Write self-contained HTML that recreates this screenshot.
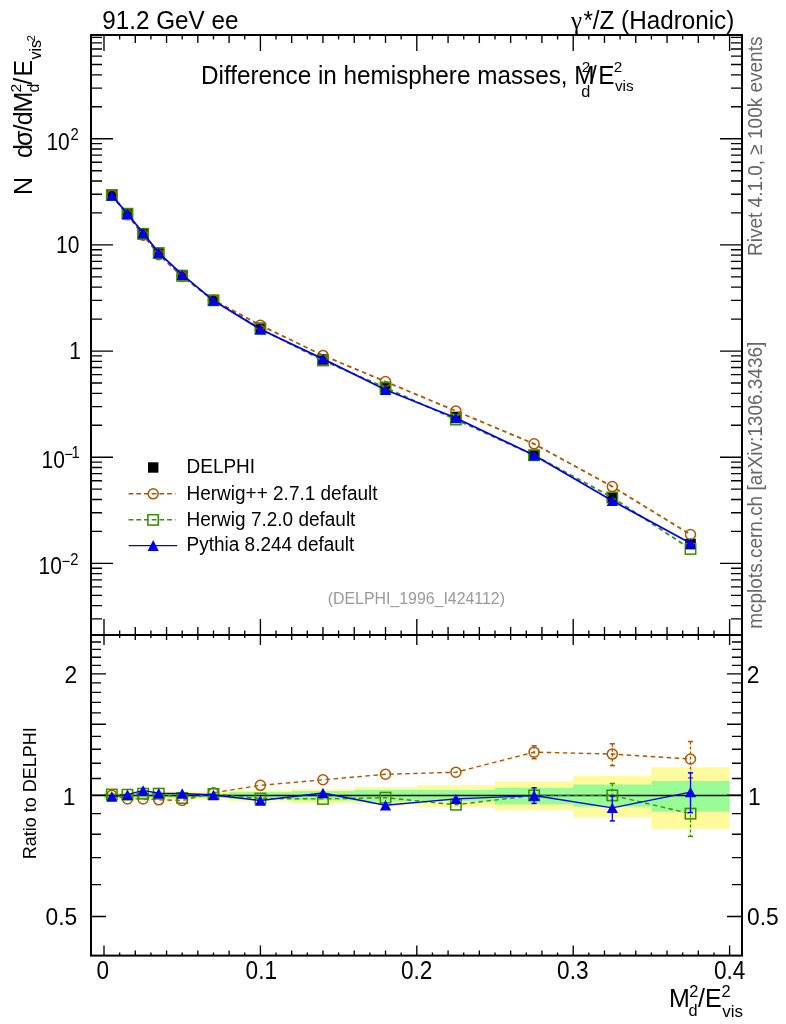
<!DOCTYPE html><html><head><meta charset="utf-8"><style>html,body{margin:0;padding:0;background:#fff;overflow:hidden}svg{display:block;will-change:transform}</style></head><body><svg width="786" height="1024" viewBox="0 0 786 1024" font-family='"Liberation Sans", sans-serif'><rect width="786" height="1024" fill="#fff"/><rect x="104.00" y="791.20" width="15.64" height="8.60" fill="#fffa9b"/><rect x="119.64" y="791.20" width="15.64" height="8.60" fill="#fffa9b"/><rect x="135.28" y="791.20" width="15.64" height="8.60" fill="#fffa9b"/><rect x="150.92" y="791.20" width="15.64" height="8.60" fill="#fffa9b"/><rect x="166.56" y="791.20" width="31.28" height="8.60" fill="#fffa9b"/><rect x="197.84" y="791.00" width="31.28" height="8.20" fill="#fffa9b"/><rect x="229.12" y="790.30" width="62.56" height="10.70" fill="#fffa9b"/><rect x="291.68" y="788.90" width="62.56" height="14.30" fill="#fffa9b"/><rect x="354.24" y="787.10" width="62.56" height="16.90" fill="#fffa9b"/><rect x="416.80" y="785.20" width="78.20" height="21.50" fill="#fffa9b"/><rect x="495.00" y="781.20" width="78.20" height="29.10" fill="#fffa9b"/><rect x="573.20" y="776.20" width="78.20" height="40.70" fill="#fffa9b"/><rect x="651.40" y="767.30" width="78.20" height="61.50" fill="#fffa9b"/><rect x="104.00" y="793.20" width="15.64" height="4.80" fill="#99fb96"/><rect x="119.64" y="793.20" width="15.64" height="4.80" fill="#99fb96"/><rect x="135.28" y="793.20" width="15.64" height="4.80" fill="#99fb96"/><rect x="150.92" y="793.20" width="15.64" height="4.80" fill="#99fb96"/><rect x="166.56" y="793.40" width="31.28" height="4.40" fill="#99fb96"/><rect x="197.84" y="793.40" width="31.28" height="4.40" fill="#99fb96"/><rect x="229.12" y="792.10" width="62.56" height="6.60" fill="#99fb96"/><rect x="291.68" y="791.00" width="62.56" height="9.50" fill="#99fb96"/><rect x="354.24" y="789.80" width="62.56" height="11.60" fill="#99fb96"/><rect x="416.80" y="790.00" width="78.20" height="11.00" fill="#99fb96"/><rect x="495.00" y="787.80" width="78.20" height="16.60" fill="#99fb96"/><rect x="573.20" y="784.50" width="78.20" height="22.20" fill="#99fb96"/><rect x="651.40" y="780.85" width="78.20" height="30.75" fill="#99fb96"/><line x1="91.00" y1="795.50" x2="742.00" y2="795.50" stroke="#000" stroke-width="1.6"/><rect x="106.52" y="189.88" width="10.60" height="10.60" fill="#000"/><rect x="122.16" y="208.57" width="10.60" height="10.60" fill="#000"/><rect x="137.80" y="228.94" width="10.60" height="10.60" fill="#000"/><rect x="153.44" y="248.14" width="10.60" height="10.60" fill="#000"/><rect x="176.90" y="269.84" width="10.60" height="10.60" fill="#000"/><rect x="208.18" y="295.34" width="10.60" height="10.60" fill="#000"/><rect x="255.10" y="322.56" width="10.60" height="10.60" fill="#000"/><rect x="317.66" y="354.18" width="10.60" height="10.60" fill="#000"/><rect x="380.22" y="381.76" width="10.60" height="10.60" fill="#000"/><rect x="450.60" y="411.75" width="10.60" height="10.60" fill="#000"/><rect x="528.80" y="449.89" width="10.60" height="10.60" fill="#000"/><rect x="607.00" y="492.14" width="10.60" height="10.60" fill="#000"/><rect x="685.20" y="538.78" width="10.60" height="10.60" fill="#000"/><polyline points="111.82,195.18 127.46,214.85 143.10,235.22 158.74,254.65 182.20,276.54 213.48,300.00 260.40,325.26 322.96,355.43 385.52,381.55 455.90,411.01 534.10,443.85 612.30,486.60 690.50,534.53" fill="none" stroke="#ad5600" stroke-width="1.8" stroke-dasharray="4.5,3.5"/><circle cx="111.82" cy="195.18" r="5.0" fill="none" stroke="#ad5600" stroke-width="1.5"/><circle cx="127.46" cy="214.85" r="5.0" fill="none" stroke="#ad5600" stroke-width="1.5"/><circle cx="143.10" cy="235.22" r="5.0" fill="none" stroke="#ad5600" stroke-width="1.5"/><circle cx="158.74" cy="254.65" r="5.0" fill="none" stroke="#ad5600" stroke-width="1.5"/><circle cx="182.20" cy="276.54" r="5.0" fill="none" stroke="#ad5600" stroke-width="1.5"/><circle cx="213.48" cy="300.00" r="5.0" fill="none" stroke="#ad5600" stroke-width="1.5"/><circle cx="260.40" cy="325.26" r="5.0" fill="none" stroke="#ad5600" stroke-width="1.5"/><circle cx="322.96" cy="355.43" r="5.0" fill="none" stroke="#ad5600" stroke-width="1.5"/><circle cx="385.52" cy="381.55" r="5.0" fill="none" stroke="#ad5600" stroke-width="1.5"/><circle cx="455.90" cy="411.01" r="5.0" fill="none" stroke="#ad5600" stroke-width="1.5"/><circle cx="534.10" cy="443.85" r="5.0" fill="none" stroke="#ad5600" stroke-width="1.5"/><circle cx="612.30" cy="486.60" r="5.0" fill="none" stroke="#ad5600" stroke-width="1.5"/><circle cx="690.50" cy="534.53" r="5.0" fill="none" stroke="#ad5600" stroke-width="1.5"/><polyline points="111.82,195.00 127.46,213.74 143.10,233.83 158.74,253.02 182.20,275.88 213.48,300.32 260.40,328.74 322.96,360.46 385.52,387.71 455.90,419.56 534.10,455.24 612.30,497.48 690.50,548.93" fill="none" stroke="#3c9000" stroke-width="1.8" stroke-dasharray="4.5,3.5"/><rect x="106.62" y="189.80" width="10.40" height="10.40" fill="none" stroke="#3c9000" stroke-width="1.55"/><rect x="122.26" y="208.54" width="10.40" height="10.40" fill="none" stroke="#3c9000" stroke-width="1.55"/><rect x="137.90" y="228.63" width="10.40" height="10.40" fill="none" stroke="#3c9000" stroke-width="1.55"/><rect x="153.54" y="247.82" width="10.40" height="10.40" fill="none" stroke="#3c9000" stroke-width="1.55"/><rect x="177.00" y="270.68" width="10.40" height="10.40" fill="none" stroke="#3c9000" stroke-width="1.55"/><rect x="208.28" y="295.12" width="10.40" height="10.40" fill="none" stroke="#3c9000" stroke-width="1.55"/><rect x="255.20" y="323.54" width="10.40" height="10.40" fill="none" stroke="#3c9000" stroke-width="1.55"/><rect x="317.76" y="355.26" width="10.40" height="10.40" fill="none" stroke="#3c9000" stroke-width="1.55"/><rect x="380.32" y="382.51" width="10.40" height="10.40" fill="none" stroke="#3c9000" stroke-width="1.55"/><rect x="450.70" y="414.36" width="10.40" height="10.40" fill="none" stroke="#3c9000" stroke-width="1.55"/><rect x="528.90" y="450.04" width="10.40" height="10.40" fill="none" stroke="#3c9000" stroke-width="1.55"/><rect x="607.10" y="492.28" width="10.40" height="10.40" fill="none" stroke="#3c9000" stroke-width="1.55"/><rect x="685.30" y="543.73" width="10.40" height="10.40" fill="none" stroke="#3c9000" stroke-width="1.55"/><polyline points="111.82,195.52 127.46,213.74 143.10,232.97 158.74,252.93 182.20,274.68 213.48,300.59 260.40,329.26 322.96,358.89 385.52,389.72 455.90,418.03 534.10,455.28 612.30,500.78 690.50,543.25" fill="none" stroke="#0000ee" stroke-width="1.8"/><path d="M106.22,200.72L117.42,200.72L111.82,190.32Z" fill="#0000ee"/><path d="M121.86,218.94L133.06,218.94L127.46,208.54Z" fill="#0000ee"/><path d="M137.50,238.17L148.70,238.17L143.10,227.77Z" fill="#0000ee"/><path d="M153.14,258.13L164.34,258.13L158.74,247.73Z" fill="#0000ee"/><path d="M176.60,279.88L187.80,279.88L182.20,269.48Z" fill="#0000ee"/><path d="M207.88,305.79L219.08,305.79L213.48,295.39Z" fill="#0000ee"/><path d="M254.80,334.46L266.00,334.46L260.40,324.06Z" fill="#0000ee"/><path d="M317.36,364.09L328.56,364.09L322.96,353.69Z" fill="#0000ee"/><path d="M379.92,394.92L391.12,394.92L385.52,384.52Z" fill="#0000ee"/><path d="M450.30,423.23L461.50,423.23L455.90,412.83Z" fill="#0000ee"/><path d="M528.50,460.48L539.70,460.48L534.10,450.08Z" fill="#0000ee"/><path d="M606.70,505.98L617.90,505.98L612.30,495.58Z" fill="#0000ee"/><path d="M684.90,548.45L696.10,548.45L690.50,538.05Z" fill="#0000ee"/><polyline points="111.82,795.20 127.46,798.91 143.10,798.91 158.74,799.81 182.20,800.53 213.48,792.77 260.40,785.33 322.96,779.80 385.52,774.27 455.90,772.27 534.10,752.13 612.30,754.06 690.50,758.97" fill="none" stroke="#ad5600" stroke-width="1.4" stroke-dasharray="4.5,3.5"/><line x1="534.10" y1="745.80" x2="534.10" y2="758.70" stroke="#ad5600" stroke-width="1.3" stroke-dasharray="3,2"/><line x1="531.50" y1="745.80" x2="536.70" y2="745.80" stroke="#ad5600" stroke-width="1.5"/><line x1="531.50" y1="758.70" x2="536.70" y2="758.70" stroke="#ad5600" stroke-width="1.5"/><line x1="612.30" y1="743.80" x2="612.30" y2="765.60" stroke="#ad5600" stroke-width="1.3" stroke-dasharray="3,2"/><line x1="609.70" y1="743.80" x2="614.90" y2="743.80" stroke="#ad5600" stroke-width="1.5"/><line x1="609.70" y1="765.60" x2="614.90" y2="765.60" stroke="#ad5600" stroke-width="1.5"/><line x1="690.50" y1="741.50" x2="690.50" y2="777.90" stroke="#ad5600" stroke-width="1.3" stroke-dasharray="3,2"/><line x1="687.90" y1="741.50" x2="693.10" y2="741.50" stroke="#ad5600" stroke-width="1.5"/><line x1="687.90" y1="777.90" x2="693.10" y2="777.90" stroke="#ad5600" stroke-width="1.5"/><circle cx="111.82" cy="795.20" r="5.0" fill="none" stroke="#ad5600" stroke-width="1.5"/><circle cx="127.46" cy="798.91" r="5.0" fill="none" stroke="#ad5600" stroke-width="1.5"/><circle cx="143.10" cy="798.91" r="5.0" fill="none" stroke="#ad5600" stroke-width="1.5"/><circle cx="158.74" cy="799.81" r="5.0" fill="none" stroke="#ad5600" stroke-width="1.5"/><circle cx="182.20" cy="800.53" r="5.0" fill="none" stroke="#ad5600" stroke-width="1.5"/><circle cx="213.48" cy="792.77" r="5.0" fill="none" stroke="#ad5600" stroke-width="1.5"/><circle cx="260.40" cy="785.33" r="5.0" fill="none" stroke="#ad5600" stroke-width="1.5"/><circle cx="322.96" cy="779.80" r="5.0" fill="none" stroke="#ad5600" stroke-width="1.5"/><circle cx="385.52" cy="774.27" r="5.0" fill="none" stroke="#ad5600" stroke-width="1.5"/><circle cx="455.90" cy="772.27" r="5.0" fill="none" stroke="#ad5600" stroke-width="1.5"/><circle cx="534.10" cy="752.13" r="5.0" fill="none" stroke="#ad5600" stroke-width="1.5"/><circle cx="612.30" cy="754.06" r="5.0" fill="none" stroke="#ad5600" stroke-width="1.5"/><circle cx="690.50" cy="758.97" r="5.0" fill="none" stroke="#ad5600" stroke-width="1.5"/><polyline points="111.82,794.50 127.46,794.68 143.10,793.63 158.74,793.63 182.20,798.02 213.48,793.98 260.40,798.56 322.96,798.91 385.52,797.67 455.90,804.73 534.10,795.38 612.30,795.38 690.50,813.64" fill="none" stroke="#3c9000" stroke-width="1.4" stroke-dasharray="4.5,3.5"/><line x1="612.30" y1="783.50" x2="612.30" y2="807.50" stroke="#3c9000" stroke-width="1.3" stroke-dasharray="3,2"/><line x1="609.70" y1="783.50" x2="614.90" y2="783.50" stroke="#3c9000" stroke-width="1.5"/><line x1="609.70" y1="807.50" x2="614.90" y2="807.50" stroke="#3c9000" stroke-width="1.5"/><line x1="690.50" y1="794.40" x2="690.50" y2="836.40" stroke="#3c9000" stroke-width="1.3" stroke-dasharray="3,2"/><line x1="687.90" y1="794.40" x2="693.10" y2="794.40" stroke="#3c9000" stroke-width="1.5"/><line x1="687.90" y1="836.40" x2="693.10" y2="836.40" stroke="#3c9000" stroke-width="1.5"/><rect x="106.62" y="789.30" width="10.40" height="10.40" fill="none" stroke="#3c9000" stroke-width="1.55"/><rect x="122.26" y="789.48" width="10.40" height="10.40" fill="none" stroke="#3c9000" stroke-width="1.55"/><rect x="137.90" y="788.43" width="10.40" height="10.40" fill="none" stroke="#3c9000" stroke-width="1.55"/><rect x="153.54" y="788.43" width="10.40" height="10.40" fill="none" stroke="#3c9000" stroke-width="1.55"/><rect x="177.00" y="792.82" width="10.40" height="10.40" fill="none" stroke="#3c9000" stroke-width="1.55"/><rect x="208.28" y="788.78" width="10.40" height="10.40" fill="none" stroke="#3c9000" stroke-width="1.55"/><rect x="255.20" y="793.36" width="10.40" height="10.40" fill="none" stroke="#3c9000" stroke-width="1.55"/><rect x="317.76" y="793.71" width="10.40" height="10.40" fill="none" stroke="#3c9000" stroke-width="1.55"/><rect x="380.32" y="792.47" width="10.40" height="10.40" fill="none" stroke="#3c9000" stroke-width="1.55"/><rect x="450.70" y="799.53" width="10.40" height="10.40" fill="none" stroke="#3c9000" stroke-width="1.55"/><rect x="528.90" y="790.18" width="10.40" height="10.40" fill="none" stroke="#3c9000" stroke-width="1.55"/><rect x="607.10" y="790.18" width="10.40" height="10.40" fill="none" stroke="#3c9000" stroke-width="1.55"/><rect x="685.30" y="808.44" width="10.40" height="10.40" fill="none" stroke="#3c9000" stroke-width="1.55"/><polyline points="111.82,796.50 127.46,794.68 143.10,790.37 158.74,793.29 182.20,793.46 213.48,795.03 260.40,800.53 322.96,792.94 385.52,805.29 455.90,798.91 534.10,795.55 612.30,807.90 690.50,792.08" fill="none" stroke="#0000ee" stroke-width="1.4"/><line x1="534.10" y1="787.80" x2="534.10" y2="803.40" stroke="#0000ee" stroke-width="1.3"/><line x1="531.50" y1="787.80" x2="536.70" y2="787.80" stroke="#0000ee" stroke-width="1.5"/><line x1="531.50" y1="803.40" x2="536.70" y2="803.40" stroke="#0000ee" stroke-width="1.5"/><line x1="612.30" y1="796.00" x2="612.30" y2="820.90" stroke="#0000ee" stroke-width="1.3"/><line x1="609.70" y1="796.00" x2="614.90" y2="796.00" stroke="#0000ee" stroke-width="1.5"/><line x1="609.70" y1="820.90" x2="614.90" y2="820.90" stroke="#0000ee" stroke-width="1.5"/><line x1="690.50" y1="772.90" x2="690.50" y2="812.60" stroke="#0000ee" stroke-width="1.3"/><line x1="687.90" y1="772.90" x2="693.10" y2="772.90" stroke="#0000ee" stroke-width="1.5"/><line x1="687.90" y1="812.60" x2="693.10" y2="812.60" stroke="#0000ee" stroke-width="1.5"/><path d="M106.22,801.70L117.42,801.70L111.82,791.30Z" fill="#0000ee"/><path d="M121.86,799.88L133.06,799.88L127.46,789.48Z" fill="#0000ee"/><path d="M137.50,795.57L148.70,795.57L143.10,785.17Z" fill="#0000ee"/><path d="M153.14,798.49L164.34,798.49L158.74,788.09Z" fill="#0000ee"/><path d="M176.60,798.66L187.80,798.66L182.20,788.26Z" fill="#0000ee"/><path d="M207.88,800.23L219.08,800.23L213.48,789.83Z" fill="#0000ee"/><path d="M254.80,805.73L266.00,805.73L260.40,795.33Z" fill="#0000ee"/><path d="M317.36,798.14L328.56,798.14L322.96,787.74Z" fill="#0000ee"/><path d="M379.92,810.49L391.12,810.49L385.52,800.09Z" fill="#0000ee"/><path d="M450.30,804.11L461.50,804.11L455.90,793.71Z" fill="#0000ee"/><path d="M528.50,800.75L539.70,800.75L534.10,790.35Z" fill="#0000ee"/><path d="M606.70,813.10L617.90,813.10L612.30,802.70Z" fill="#0000ee"/><path d="M684.90,797.28L696.10,797.28L690.50,786.88Z" fill="#0000ee"/><path d="M104.00,35.00L104.00,51.00M104.00,635.00L104.00,619.00M104.00,635.00L104.00,645.00M104.00,955.60L104.00,945.60M119.64,35.00L119.64,39.50M119.64,635.00L119.64,630.50M119.64,635.00L119.64,638.00M119.64,955.60L119.64,952.60M135.28,35.00L135.28,43.00M135.28,635.00L135.28,627.00M135.28,635.00L135.28,640.00M135.28,955.60L135.28,950.60M150.92,35.00L150.92,39.50M150.92,635.00L150.92,630.50M150.92,635.00L150.92,638.00M150.92,955.60L150.92,952.60M166.56,35.00L166.56,43.00M166.56,635.00L166.56,627.00M166.56,635.00L166.56,640.00M166.56,955.60L166.56,950.60M182.20,35.00L182.20,39.50M182.20,635.00L182.20,630.50M182.20,635.00L182.20,638.00M182.20,955.60L182.20,952.60M197.84,35.00L197.84,43.00M197.84,635.00L197.84,627.00M197.84,635.00L197.84,640.00M197.84,955.60L197.84,950.60M213.48,35.00L213.48,39.50M213.48,635.00L213.48,630.50M213.48,635.00L213.48,638.00M213.48,955.60L213.48,952.60M229.12,35.00L229.12,43.00M229.12,635.00L229.12,627.00M229.12,635.00L229.12,640.00M229.12,955.60L229.12,950.60M244.76,35.00L244.76,39.50M244.76,635.00L244.76,630.50M244.76,635.00L244.76,638.00M244.76,955.60L244.76,952.60M260.40,35.00L260.40,51.00M260.40,635.00L260.40,619.00M260.40,635.00L260.40,645.00M260.40,955.60L260.40,945.60M276.04,35.00L276.04,39.50M276.04,635.00L276.04,630.50M276.04,635.00L276.04,638.00M276.04,955.60L276.04,952.60M291.68,35.00L291.68,43.00M291.68,635.00L291.68,627.00M291.68,635.00L291.68,640.00M291.68,955.60L291.68,950.60M307.32,35.00L307.32,39.50M307.32,635.00L307.32,630.50M307.32,635.00L307.32,638.00M307.32,955.60L307.32,952.60M322.96,35.00L322.96,43.00M322.96,635.00L322.96,627.00M322.96,635.00L322.96,640.00M322.96,955.60L322.96,950.60M338.60,35.00L338.60,39.50M338.60,635.00L338.60,630.50M338.60,635.00L338.60,638.00M338.60,955.60L338.60,952.60M354.24,35.00L354.24,43.00M354.24,635.00L354.24,627.00M354.24,635.00L354.24,640.00M354.24,955.60L354.24,950.60M369.88,35.00L369.88,39.50M369.88,635.00L369.88,630.50M369.88,635.00L369.88,638.00M369.88,955.60L369.88,952.60M385.52,35.00L385.52,43.00M385.52,635.00L385.52,627.00M385.52,635.00L385.52,640.00M385.52,955.60L385.52,950.60M401.16,35.00L401.16,39.50M401.16,635.00L401.16,630.50M401.16,635.00L401.16,638.00M401.16,955.60L401.16,952.60M416.80,35.00L416.80,51.00M416.80,635.00L416.80,619.00M416.80,635.00L416.80,645.00M416.80,955.60L416.80,945.60M432.44,35.00L432.44,39.50M432.44,635.00L432.44,630.50M432.44,635.00L432.44,638.00M432.44,955.60L432.44,952.60M448.08,35.00L448.08,43.00M448.08,635.00L448.08,627.00M448.08,635.00L448.08,640.00M448.08,955.60L448.08,950.60M463.72,35.00L463.72,39.50M463.72,635.00L463.72,630.50M463.72,635.00L463.72,638.00M463.72,955.60L463.72,952.60M479.36,35.00L479.36,43.00M479.36,635.00L479.36,627.00M479.36,635.00L479.36,640.00M479.36,955.60L479.36,950.60M495.00,35.00L495.00,39.50M495.00,635.00L495.00,630.50M495.00,635.00L495.00,638.00M495.00,955.60L495.00,952.60M510.64,35.00L510.64,43.00M510.64,635.00L510.64,627.00M510.64,635.00L510.64,640.00M510.64,955.60L510.64,950.60M526.28,35.00L526.28,39.50M526.28,635.00L526.28,630.50M526.28,635.00L526.28,638.00M526.28,955.60L526.28,952.60M541.92,35.00L541.92,43.00M541.92,635.00L541.92,627.00M541.92,635.00L541.92,640.00M541.92,955.60L541.92,950.60M557.56,35.00L557.56,39.50M557.56,635.00L557.56,630.50M557.56,635.00L557.56,638.00M557.56,955.60L557.56,952.60M573.20,35.00L573.20,51.00M573.20,635.00L573.20,619.00M573.20,635.00L573.20,645.00M573.20,955.60L573.20,945.60M588.84,35.00L588.84,39.50M588.84,635.00L588.84,630.50M588.84,635.00L588.84,638.00M588.84,955.60L588.84,952.60M604.48,35.00L604.48,43.00M604.48,635.00L604.48,627.00M604.48,635.00L604.48,640.00M604.48,955.60L604.48,950.60M620.12,35.00L620.12,39.50M620.12,635.00L620.12,630.50M620.12,635.00L620.12,638.00M620.12,955.60L620.12,952.60M635.76,35.00L635.76,43.00M635.76,635.00L635.76,627.00M635.76,635.00L635.76,640.00M635.76,955.60L635.76,950.60M651.40,35.00L651.40,39.50M651.40,635.00L651.40,630.50M651.40,635.00L651.40,638.00M651.40,955.60L651.40,952.60M667.04,35.00L667.04,43.00M667.04,635.00L667.04,627.00M667.04,635.00L667.04,640.00M667.04,955.60L667.04,950.60M682.68,35.00L682.68,39.50M682.68,635.00L682.68,630.50M682.68,635.00L682.68,638.00M682.68,955.60L682.68,952.60M698.32,35.00L698.32,43.00M698.32,635.00L698.32,627.00M698.32,635.00L698.32,640.00M698.32,955.60L698.32,950.60M713.96,35.00L713.96,39.50M713.96,635.00L713.96,630.50M713.96,635.00L713.96,638.00M713.96,955.60L713.96,952.60M729.60,35.00L729.60,51.00M729.60,635.00L729.60,619.00M729.60,635.00L729.60,645.00M729.60,955.60L729.60,945.60M91.00,618.89L102.00,618.89M742.00,618.89L731.00,618.89M91.00,605.63L102.00,605.63M742.00,605.63L731.00,605.63M91.00,595.34L102.00,595.34M742.00,595.34L731.00,595.34M91.00,586.93L102.00,586.93M742.00,586.93L731.00,586.93M91.00,579.82L102.00,579.82M742.00,579.82L731.00,579.82M91.00,573.67L102.00,573.67M742.00,573.67L731.00,573.67M91.00,568.24L102.00,568.24M742.00,568.24L731.00,568.24M91.00,563.38L113.00,563.38M742.00,563.38L720.00,563.38M91.00,531.42L102.00,531.42M742.00,531.42L731.00,531.42M91.00,512.73L102.00,512.73M742.00,512.73L731.00,512.73M91.00,499.47L102.00,499.47M742.00,499.47L731.00,499.47M91.00,489.18L102.00,489.18M742.00,489.18L731.00,489.18M91.00,480.77L102.00,480.77M742.00,480.77L731.00,480.77M91.00,473.66L102.00,473.66M742.00,473.66L731.00,473.66M91.00,467.51L102.00,467.51M742.00,467.51L731.00,467.51M91.00,462.08L102.00,462.08M742.00,462.08L731.00,462.08M91.00,457.22L113.00,457.22M742.00,457.22L720.00,457.22M91.00,425.26L102.00,425.26M742.00,425.26L731.00,425.26M91.00,406.57L102.00,406.57M742.00,406.57L731.00,406.57M91.00,393.31L102.00,393.31M742.00,393.31L731.00,393.31M91.00,383.02L102.00,383.02M742.00,383.02L731.00,383.02M91.00,374.61L102.00,374.61M742.00,374.61L731.00,374.61M91.00,367.50L102.00,367.50M742.00,367.50L731.00,367.50M91.00,361.35L102.00,361.35M742.00,361.35L731.00,361.35M91.00,355.92L102.00,355.92M742.00,355.92L731.00,355.92M91.00,351.06L113.00,351.06M742.00,351.06L720.00,351.06M91.00,319.10L102.00,319.10M742.00,319.10L731.00,319.10M91.00,300.41L102.00,300.41M742.00,300.41L731.00,300.41M91.00,287.15L102.00,287.15M742.00,287.15L731.00,287.15M91.00,276.86L102.00,276.86M742.00,276.86L731.00,276.86M91.00,268.45L102.00,268.45M742.00,268.45L731.00,268.45M91.00,261.34L102.00,261.34M742.00,261.34L731.00,261.34M91.00,255.19L102.00,255.19M742.00,255.19L731.00,255.19M91.00,249.76L102.00,249.76M742.00,249.76L731.00,249.76M91.00,244.90L113.00,244.90M742.00,244.90L720.00,244.90M91.00,212.94L102.00,212.94M742.00,212.94L731.00,212.94M91.00,194.25L102.00,194.25M742.00,194.25L731.00,194.25M91.00,180.99L102.00,180.99M742.00,180.99L731.00,180.99M91.00,170.70L102.00,170.70M742.00,170.70L731.00,170.70M91.00,162.29L102.00,162.29M742.00,162.29L731.00,162.29M91.00,155.18L102.00,155.18M742.00,155.18L731.00,155.18M91.00,149.03L102.00,149.03M742.00,149.03L731.00,149.03M91.00,143.60L102.00,143.60M742.00,143.60L731.00,143.60M91.00,138.74L113.00,138.74M742.00,138.74L720.00,138.74M91.00,106.78L102.00,106.78M742.00,106.78L731.00,106.78M91.00,88.09L102.00,88.09M742.00,88.09L731.00,88.09M91.00,74.83L102.00,74.83M742.00,74.83L731.00,74.83M91.00,64.54L102.00,64.54M742.00,64.54L731.00,64.54M91.00,56.13L102.00,56.13M742.00,56.13L731.00,56.13M91.00,49.02L102.00,49.02M742.00,49.02L731.00,49.02M91.00,42.87L102.00,42.87M742.00,42.87L731.00,42.87M91.00,37.44L102.00,37.44M742.00,37.44L731.00,37.44M91.00,916.52L106.00,916.52M742.00,916.52L727.00,916.52M91.00,884.61L101.00,884.61M742.00,884.61L732.00,884.61M91.00,857.63L101.00,857.63M742.00,857.63L732.00,857.63M91.00,834.25L101.00,834.25M742.00,834.25L732.00,834.25M91.00,813.64L101.00,813.64M742.00,813.64L732.00,813.64M91.00,795.20L106.00,795.20M742.00,795.20L727.00,795.20M91.00,778.52L101.00,778.52M742.00,778.52L732.00,778.52M91.00,763.29L101.00,763.29M742.00,763.29L732.00,763.29M91.00,749.28L101.00,749.28M742.00,749.28L732.00,749.28M91.00,736.31L101.00,736.31M742.00,736.31L732.00,736.31M91.00,724.24L106.00,724.24M742.00,724.24L727.00,724.24M91.00,712.94L101.00,712.94M742.00,712.94L732.00,712.94M91.00,702.33L101.00,702.33M742.00,702.33L732.00,702.33M91.00,692.33L101.00,692.33M742.00,692.33L732.00,692.33M91.00,682.86L101.00,682.86M742.00,682.86L732.00,682.86M91.00,673.88L106.00,673.88M742.00,673.88L727.00,673.88M91.00,665.35L101.00,665.35M742.00,665.35L732.00,665.35M91.00,657.20L101.00,657.20M742.00,657.20L732.00,657.20M91.00,649.42L101.00,649.42M742.00,649.42L732.00,649.42M91.00,641.97L101.00,641.97M742.00,641.97L732.00,641.97" stroke="#000" stroke-width="1.35" fill="none"/><rect x="91.0" y="35.0" width="651.0" height="600.0" fill="none" stroke="#000" stroke-width="2"/><rect x="91.0" y="635.0" width="651.0" height="320.6" fill="none" stroke="#000" stroke-width="2"/><text transform="translate(102.35,28.90) scale(1,1.08)" font-size="24.25" fill="#000">91.2 GeV ee</text><text transform="translate(583.42,28.90) scale(1,1.08)" font-size="24.25" fill="#000">*/Z (Hadronic)</text><text x="571.06" y="28.90" font-size="25" fill="#000" font-family="Liberation Serif, serif">γ</text><text transform="translate(201.00,83.90) scale(1,1.06)" font-size="24.3" fill="#000">Difference in hemisphere masses, M</text><text x="581.74" y="72.40" font-size="15.3" fill="#000">2</text><text x="581.31" y="96.60" font-size="16.3" fill="#000">d</text><text transform="translate(590.00,83.90) scale(1,1.06)" font-size="24.3" fill="#000">/</text><text transform="translate(598.30,83.90) scale(1,1.06)" font-size="24.3" fill="#000">E</text><text x="613.74" y="72.40" font-size="15.3" fill="#000">2</text><text x="614.92" y="91.30" font-size="15.3" fill="#000">vis</text><text transform="translate(46.38,150.20) scale(1,1.13)" font-size="21.0" fill="#000">10</text><text transform="translate(70.46,140.00) scale(1,1.13)" font-size="14.8" fill="#000">2</text><text transform="translate(55.98,252.80) scale(1,1.13)" font-size="21.0" fill="#000">10</text><text transform="translate(69.14,358.50) scale(1,1.13)" font-size="21.0" fill="#000">1</text><text transform="translate(41.52,467.60) scale(1,1.13)" font-size="21.0" fill="#000">10</text><text transform="translate(64.46,459.50) scale(1,1.13)" font-size="14.8" fill="#000">−</text><text transform="translate(71.49,457.90) scale(1,1.13)" font-size="14.8" fill="#000">1</text><text transform="translate(38.62,574.00) scale(1,1.13)" font-size="21.0" fill="#000">10</text><text transform="translate(61.76,566.60) scale(1,1.13)" font-size="14.8" fill="#000">−</text><text transform="translate(70.36,564.80) scale(1,1.13)" font-size="14.8" fill="#000">2</text><text transform="translate(64.59,682.90) scale(1,1.06)" font-size="22.8" fill="#000">2</text><text transform="translate(62.78,804.80) scale(1,1.06)" font-size="22.8" fill="#000">1</text><text transform="translate(45.52,925.20) scale(1,1.06)" font-size="22.8" fill="#000">0.5</text><text transform="translate(746.86,682.90) scale(1,1.06)" font-size="22.8" fill="#000">2</text><text transform="translate(747.89,804.80) scale(1,1.06)" font-size="22.8" fill="#000">1</text><text transform="translate(747.09,925.20) scale(1,1.06)" font-size="22.8" fill="#000">0.5</text><text transform="translate(96.60,978.80) scale(1,1.16)" font-size="22.6" fill="#000">0</text><text transform="translate(245.60,978.80) scale(1,1.16)" font-size="22.6" fill="#000">0.1</text><text transform="translate(400.90,978.80) scale(1,1.16)" font-size="22.6" fill="#000">0.2</text><text transform="translate(557.10,978.80) scale(1,1.16)" font-size="22.6" fill="#000">0.3</text><text transform="translate(714.00,978.80) scale(1,1.16)" font-size="22.6" fill="#000">0.4</text><text x="669.04" y="1006.70" font-size="25" fill="#000">M</text><text x="689.18" y="996.50" font-size="16.4" fill="#000">2</text><text x="688.51" y="1015.50" font-size="16.3" fill="#000">d</text><text x="698.00" y="1006.70" font-size="25" fill="#000">/</text><text x="705.04" y="1006.70" font-size="25" fill="#000">E</text><text x="721.58" y="996.50" font-size="16.4" fill="#000">2</text><text x="722.31" y="1016.60" font-size="17" fill="#000">vis</text><text transform="rotate(-90) translate(-195.06,32.00) scale(1,1.0)" font-size="25" fill="#000">N</text><text transform="rotate(-90) translate(-158.06,32.00) scale(1,1.0)" font-size="25" fill="#000">d</text><text transform="rotate(-90) translate(-146.06,32.00) scale(1,1.0)" font-size="25" fill="#000">σ</text><text transform="rotate(-90) translate(-131.40,32.00) scale(1,1.0)" font-size="25" fill="#000">/</text><text transform="rotate(-90) translate(-125.26,32.00) scale(1,1.0)" font-size="25" fill="#000">d</text><text transform="rotate(-90) translate(-112.46,32.00) scale(1,1.0)" font-size="25" fill="#000">M</text><text transform="rotate(-90) translate(-92.48,20.90) scale(1,1.0)" font-size="15.5" fill="#000">2</text><text transform="rotate(-90) translate(-92.38,39.25) scale(1,1.0)" font-size="16" fill="#000">d</text><text transform="rotate(-90) translate(-84.70,32.00) scale(1,1.0)" font-size="25" fill="#000">/</text><text transform="rotate(-90) translate(-76.56,31.80) scale(1,1.0)" font-size="25" fill="#000">E</text><text transform="rotate(-90) translate(-59.48,40.90) scale(1,1.0)" font-size="16" fill="#000">vis</text><text transform="rotate(-90) translate(-41.38,34.90) scale(1,1.0)" font-size="11.5" fill="#000">2</text><text transform="rotate(-90) translate(-859.19,36.40) scale(1,1.05)" font-size="18" fill="#000">Ratio to DELPHI</text><text transform="rotate(-90) translate(-255.97,761.50) scale(1,1.05)" font-size="19" fill="#666">Rivet 4.1.0, ≥ 100k events</text><text transform="rotate(-90) translate(-628.78,761.80) scale(1,1.05)" font-size="19" fill="#666">mcplots.cern.ch [arXiv:1306.3436]</text><text x="327.71" y="603.70" font-size="15.9" fill="#999">(DELPHI_1996_I424112)</text><rect x="148.00" y="462.30" width="10.40" height="10.40" fill="#000"/><text transform="translate(186.53,472.90) scale(1,1.06)" font-size="19" fill="#000">DELPHI</text><line x1="128.60" y1="493.80" x2="175.50" y2="493.80" stroke="#ad5600" stroke-width="1.5" stroke-dasharray="4.8,2.9"/><circle cx="153.20" cy="493.85" r="5.0" fill="none" stroke="#ad5600" stroke-width="1.5"/><text transform="translate(186.53,499.90) scale(1,1.06)" font-size="19" fill="#000">Herwig++ 2.7.1 default</text><line x1="128.60" y1="519.80" x2="175.50" y2="519.80" stroke="#3c9000" stroke-width="1.5" stroke-dasharray="4.8,2.9"/><rect x="147.85" y="514.70" width="10.40" height="10.40" fill="none" stroke="#3c9000" stroke-width="1.55"/><text transform="translate(186.53,526.00) scale(1,1.06)" font-size="19" fill="#000">Herwig 7.2.0 default</text><line x1="128.65" y1="545.60" x2="177.20" y2="545.60" stroke="#0000ee" stroke-width="1.35"/><path d="M147.60,550.90L158.80,550.90L153.20,540.10Z" fill="#0000ee"/><text transform="translate(186.53,550.90) scale(1,1.06)" font-size="19" fill="#000">Pythia 8.244 default</text></svg></body></html>
